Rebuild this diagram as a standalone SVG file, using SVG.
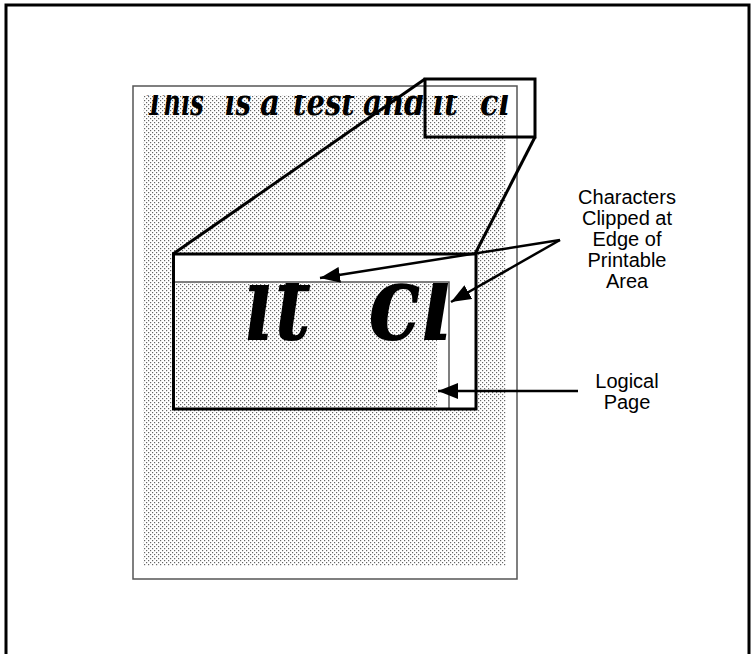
<svg xmlns="http://www.w3.org/2000/svg" width="755" height="654" viewBox="0 0 755 654">
<style>
.thick{fill:none;stroke:#000;stroke-width:3}
.thin{fill:none;stroke:#555;stroke-width:1.5}
.serif{font-family:"DejaVu Serif","Liberation Serif",serif;font-weight:bold;font-style:italic;fill:#000}
.lbl{font-family:"Liberation Sans",Arial,sans-serif;font-size:20px;fill:#000;text-anchor:middle}
.arr{fill:none;stroke:#000;stroke-width:2.5}
</style>
<defs>
<pattern id="dots" width="4" height="4" patternUnits="userSpaceOnUse">
<rect x="0" y="0" width="1.2" height="1.2" fill="#666"/>
<rect x="2" y="2" width="1.2" height="1.2" fill="#666"/>
</pattern>
<clipPath id="clipSmall"><rect x="133" y="95" width="384" height="40"/></clipPath>
<clipPath id="clipBig"><rect x="175" y="283" width="274" height="125"/></clipPath>
<marker id="ah" viewBox="0 0 20 16" refX="20" refY="8" markerWidth="20" markerHeight="16" markerUnits="userSpaceOnUse" orient="auto">
<path d="M0,0 L20,8 L0,16 Z" fill="#000"/>
</marker>
</defs>
<rect width="755" height="654" fill="#fff"/>
<path class="thick" d="M6,660 V5 H749 V660"/>

<g id="page">
<rect x="143" y="95" width="363" height="471" fill="url(#dots)"/>
<rect class="thin" x="133" y="86" width="384" height="493"/>
<g clip-path="url(#clipSmall)">
<g class="serif" font-size="36" transform="scale(0.65,1)">
<text x="224.6" y="115" textLength="89" lengthAdjust="spacingAndGlyphs">This</text>
<text x="346.2" y="115" textLength="40" lengthAdjust="spacingAndGlyphs">is</text>
<text x="400" y="115" textLength="31" lengthAdjust="spacingAndGlyphs">a</text>
<text x="450.8" y="115" textLength="95" lengthAdjust="spacingAndGlyphs">test</text>
<text x="558.5" y="115" textLength="95" lengthAdjust="spacingAndGlyphs">and</text>
<text x="666.2" y="115" textLength="38" lengthAdjust="spacingAndGlyphs">it</text>
<text x="738.5" y="115" textLength="46" lengthAdjust="spacingAndGlyphs">cl</text>
</g>
</g>
</g>

<g id="zoom-box">
<rect class="thick" x="425" y="79" width="110" height="58"/>
</g>

<g id="magnified">
<rect x="173.5" y="254" width="302.5" height="155" fill="#fff"/>
<rect x="176" y="283" width="261" height="125" fill="url(#dots)"/>
<path class="thin" d="M175,282 H449 V408"/>
<g clip-path="url(#clipBig)" class="serif" font-size="104">
<text x="245" y="340" textLength="66" lengthAdjust="spacingAndGlyphs">it</text>
<text x="368" y="340" textLength="86" lengthAdjust="spacingAndGlyphs">cl</text>
</g>
<rect class="thick" x="173.5" y="254" width="302.5" height="155"/>
</g>

<g id="connectors">
<line class="thick" x1="425" y1="79" x2="173" y2="254"/>
<line class="thick" x1="535" y1="137" x2="475" y2="254"/>
<line class="arr" x1="560" y1="240" x2="320" y2="278" marker-end="url(#ah)"/>
<line class="arr" x1="560" y1="240" x2="451" y2="302" marker-end="url(#ah)"/>
<line class="arr" x1="578" y1="391" x2="438" y2="391" marker-end="url(#ah)"/>
</g>

<g id="label-clipped">
<text class="lbl" x="627" y="204">Characters</text>
<text class="lbl" x="627" y="225">Clipped  at</text>
<text class="lbl" x="627" y="246">Edge  of</text>
<text class="lbl" x="627" y="267">Printable</text>
<text class="lbl" x="627" y="288">Area</text>
</g>
<g id="label-logical">
<text class="lbl" x="627" y="388">Logical</text>
<text class="lbl" x="627" y="409">Page</text>
</g>
</svg>
